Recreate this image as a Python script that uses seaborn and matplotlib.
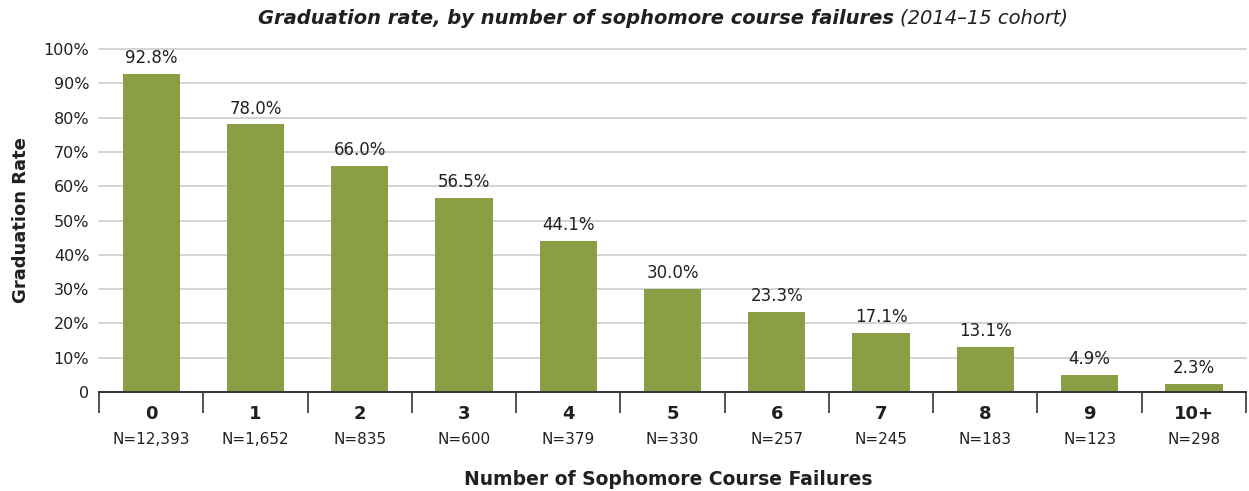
import matplotlib.pyplot as plt
import matplotlib.transforms as mtransforms
import seaborn as sns
import pandas as pd

categories = ["0", "1", "2", "3", "4", "5", "6", "7", "8", "9", "10+"]
grad_rate = [92.8, 78.0, 66.0, 56.5, 44.1, 30.0, 23.3, 17.1, 13.1, 4.9, 2.3]
n_students = ["12,393", "1,652", "835", "600", "379", "330", "257", "245", "183", "123", "298"]
y_ticks = [0, 10, 20, 30, 40, 50, 60, 70, 80, 90, 100]
y_tick_labels = ["0"] + [f"{v}%" for v in y_ticks[1:]]

BAR_COLOR = "#8A9E45"
TEXT = "#231F20"

sns.set_theme(style="white")
plt.rcParams["font.family"] = ["DejaVu Sans"]

df = pd.DataFrame({"failures": categories, "rate": grad_rate})

fig = plt.figure(figsize=(12.49, 4.91), dpi=100)
ax = fig.add_axes([0.0793, 0.2016, 0.9183, 0.6986])

sns.barplot(data=df, x="failures", y="rate", color=BAR_COLOR, width=0.55,
            saturation=1, linewidth=0, ax=ax)

ax.set_ylim(0, 100)
ax.set_xlim(-0.5, len(categories) - 0.5)
ax.set_yticks(y_ticks)
ax.set_yticklabels(y_tick_labels, fontsize=11.5, color=TEXT)
ax.yaxis.grid(True, color="#CCCCCC", linewidth=1.2)
for gl in ax.get_ygridlines():
    gl.set_clip_on(False)
ax.set_axisbelow(True)
ax.tick_params(axis="y", length=0, pad=7)

for s in ["left", "right", "top"]:
    ax.spines[s].set_visible(False)
ax.spines["bottom"].set_color("#333333")
ax.spines["bottom"].set_linewidth(1.4)

# category separators below the axis
ax.set_xticks([i - 0.5 for i in range(len(categories) + 1)], minor=True)
ax.tick_params(axis="x", which="minor", length=15, width=1.2, color="#333333",
               direction="out", bottom=True)
ax.set_xticks(range(len(categories)))
ax.set_xticklabels(categories, fontsize=13, fontweight="bold", color=TEXT)
ax.tick_params(axis="x", which="major", length=0, pad=9)

# value labels
for i, v in enumerate(grad_rate):
    ax.annotate(f"{v:.1f}%", (i, v), xytext=(0, 5), textcoords="offset points",
                ha="center", va="bottom", fontsize=12, color=TEXT)

# N labels
trans = mtransforms.blended_transform_factory(ax.transData, ax.transAxes)
for i, n in enumerate(n_students):
    ax.annotate(f"N={n}", (i, 0), xycoords=trans, xytext=(0, -34),
                textcoords="offset points", ha="center", va="center",
                fontsize=11, color=TEXT)

ax.set_xlabel("")
ax.set_ylabel("Graduation Rate", fontsize=13, fontweight="bold", color=TEXT,
              labelpad=10)

fig.text(0.535, 0.024, "Number of Sophomore Course Failures", ha="center",
         va="center", fontsize=13.5, fontweight="bold", color=TEXT)

# title in two styles, centred as one line
renderer = fig.canvas.get_renderer()
t1 = fig.text(0, 0.963, "Graduation rate, by number of sophomore course failures ",
              ha="left", va="center", fontsize=14, fontstyle="italic",
              fontweight="semibold", color=TEXT)
t2 = fig.text(0, 0.963, "(2014\u201315 cohort)", ha="left", va="center",
              fontsize=14, fontstyle="italic", color=TEXT)
w1 = t1.get_window_extent(renderer).width / fig.bbox.width
w2 = t2.get_window_extent(renderer).width / fig.bbox.width
x0 = 663 / 1249 - (w1 + w2) / 2
t1.set_x(x0)
t2.set_x(x0 + w1)

fig.savefig("out.png", dpi=100)
